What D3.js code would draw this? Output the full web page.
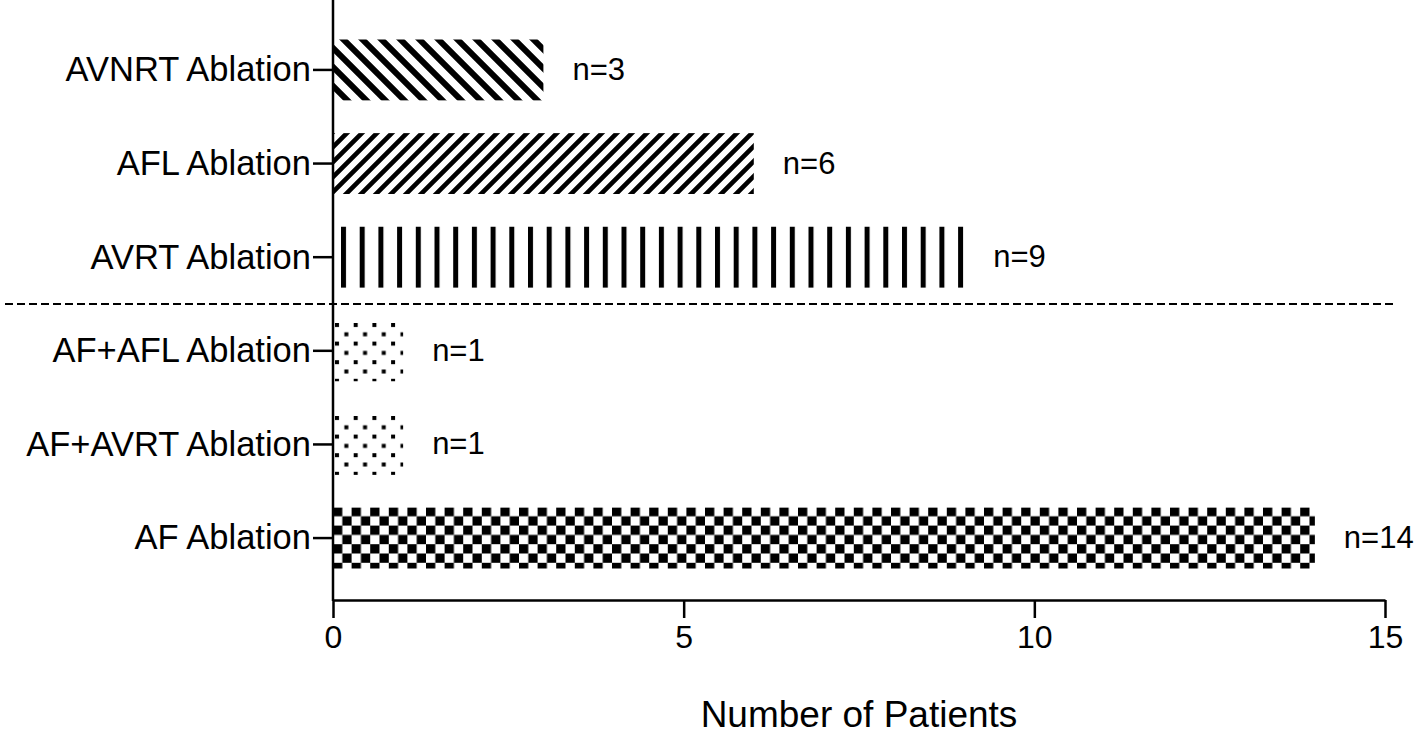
<!DOCTYPE html>
<html>
<head>
<meta charset="utf-8">
<script src="https://cdn.jsdelivr.net/npm/d3@7"></script>
<style>
  body { margin: 0; background: #fff; }
  text { font-family: "Liberation Sans", Arial, sans-serif; fill: #000; }
</style>
</head>
<body>
<div id="content"></div>
<script>
var width = 1417;
var height = 735;

var categories = ['AVNRT Ablation',
                  'AFL Ablation',
                  'AVRT Ablation',
                  'AF+AFL Ablation',
                  'AF+AVRT Ablation',
                  'AF Ablation'];
var patients = [3, 6, 9, 1, 1, 14];
var fills = ['back', 'fwd', 'vert', 'dots', 'dots', 'check'];
var xTicks = [0, 5, 10, 15];

var svg = d3.select('div#content').append('svg')
    .attr('width', width)
    .attr('height', height);

var defs = svg.append('defs');

// hatch patterns
var p = defs.append('pattern').attr('id', 'back')
    .attr('patternUnits', 'userSpaceOnUse')
    .attr('width', 19).attr('height', 19);
p.append('path').attr('d', 'M-5,-5L24,24M-5,14L5,24M14,-5L24,5')
    .attr('stroke', '#000').attr('stroke-width', 6);

p = defs.append('pattern').attr('id', 'fwd')
    .attr('patternUnits', 'userSpaceOnUse')
    .attr('width', 15).attr('height', 15);
p.append('path').attr('d', 'M-4,19L19,-4M-4,4L4,-4M11,19L19,11')
    .attr('stroke', '#000').attr('stroke-width', 4.6);

p = defs.append('pattern').attr('id', 'vert')
    .attr('patternUnits', 'userSpaceOnUse')
    .attr('x', 341).attr('width', 18.7).attr('height', 20);
p.append('rect').attr('x', 0).attr('y', 0).attr('width', 5).attr('height', 20).attr('fill', '#000');

p = defs.append('pattern').attr('id', 'dots')
    .attr('patternUnits', 'userSpaceOnUse')
    .attr('x', 335).attr('y', 323)
    .attr('width', 18.7).attr('height', 18.6);
p.append('rect').attr('x', 0).attr('y', 0).attr('width', 4).attr('height', 4).attr('fill', '#000');
p.append('rect').attr('x', 9.35).attr('y', 9.3).attr('width', 4).attr('height', 4).attr('fill', '#000');

p = defs.append('pattern').attr('id', 'check')
    .attr('patternUnits', 'userSpaceOnUse')
    .attr('x', 333).attr('y', 507)
    .attr('width', 18.6).attr('height', 18.6);
p.append('rect').attr('x', 0).attr('y', 0).attr('width', 9.3).attr('height', 9.3).attr('fill', '#000');
p.append('rect').attr('x', 9.3).attr('y', 9.3).attr('width', 9.3).attr('height', 9.3).attr('fill', '#000');

var x = d3.scaleLinear().domain([0, 15]).range([333, 1385]);
var y = d3.scaleBand().domain(categories).range([39.5, 568.5])
    .paddingInner(0.35).paddingOuter(0);

// bars
svg.selectAll('rect.bar')
    .data(categories).enter()
    .append('rect')
        .attr('class', 'bar')
        .attr('x', x(0))
        .attr('y', function(d){ return y(d); })
        .attr('width', function(d, i){ return x(patients[i]) - x(0); })
        .attr('height', y.bandwidth())
        .attr('fill', function(d, i){ return 'url(#' + fills[i] + ')'; });

// n= labels
svg.selectAll('text.n')
    .data(categories).enter()
    .append('text')
        .attr('class', 'n')
        .attr('x', function(d, i){ return x(patients[i]) + 29; })
        .attr('y', function(d){ return y(d) + y.bandwidth() / 2 + 10; })
        .style('font-size', '31px')
        .text(function(d, i){ return 'n=' + patients[i]; });

// divider between groups
var midY = (y(categories[2]) + y.bandwidth() + y(categories[3])) / 2;
svg.append('line')
    .attr('x1', 5).attr('x2', 1395)
    .attr('y1', midY).attr('y2', midY)
    .attr('stroke', '#000').attr('stroke-width', 2)
    .attr('stroke-dasharray', '8,4');

// y axis
var yAxis = svg.append('g')
    .attr('transform', 'translate(' + x(0) + ',0)')
    .call(d3.axisLeft(y).tickSize(20).tickPadding(2));
yAxis.select('.domain').remove();
yAxis.selectAll('.tick line').attr('stroke', '#000').attr('stroke-width', 2.5);
yAxis.selectAll('.tick text').style('font-size', '34.5px').attr('dy', '0.33em');
yAxis.append('line')
    .attr('x1', 0).attr('x2', 0)
    .attr('y1', 0).attr('y2', 601)
    .attr('stroke', '#000').attr('stroke-width', 2.5);

// x axis
var xAxis = svg.append('g')
    .attr('transform', 'translate(0,600)')
    .call(d3.axisBottom(x).tickValues(xTicks).tickSize(18).tickSizeOuter(0).tickPadding(7));
xAxis.select('.domain').attr('stroke', '#000').attr('stroke-width', 2.5);
xAxis.selectAll('.tick line').attr('stroke', '#000').attr('stroke-width', 2.5);
xAxis.selectAll('.tick text').style('font-size', '32px');

svg.append('text')
    .attr('x', (x(0) + x(15)) / 2)
    .attr('y', 727)
    .attr('text-anchor', 'middle')
    .style('font-size', '37px')
    .text('Number of Patients');
</script>
</body>
</html>
